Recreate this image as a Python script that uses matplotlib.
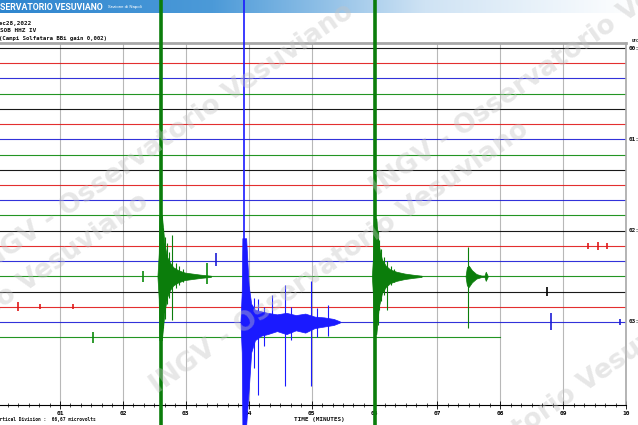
import numpy as np
import matplotlib
matplotlib.use("Agg")
from matplotlib import pyplot as plt
from matplotlib.colors import LinearSegmentedColormap

W, H = 638, 425

# ---------------------------------------------------------------------------
# helicorder layout: 10 minute lines, 6 per hour
n_traces = 20
trace_colors = ["#000000", "#e01818", "#1c1cd6", "#0b8a0b"]
last_trace_end = 8.0
hour_rows = [0, 6, 12, 18]
hour_labels = ["00:00", "01:00", "02:00", "03:00"]
minute_ticks = [1, 2, 3, 4, 5, 6, 7, 8, 9, 10]
minute_labels = ["01", "02", "03", "04", "05", "06", "07", "08", "09", "10"]

# events: row, time in minutes, amplitude up / down in line spacings
eq1_row = 15
eq1_t = [2.55, 2.57, 2.58, 2.62, 2.66, 2.70, 2.75, 2.80, 2.88, 2.98, 3.10, 3.25, 3.40]
eq1_up = [0.05, 1.5, 4.0, 4.0, 2.2, 1.3, 0.9, 0.6, 0.4, 0.25, 0.18, 0.1, 0.04]
eq1_dn = [0.05, 1.5, 4.2, 4.2, 2.4, 1.4, 0.9, 0.6, 0.4, 0.25, 0.18, 0.1, 0.04]
eq1_main = 2.60
eq1_spk_t = [2.64, 2.67, 2.70, 2.73, 2.78, 2.84, 2.90, 2.95]
eq1_spk_up = [3.2, 2.6, 2.2, 1.6, 2.7, 0.9, 0.7, 0.5]
eq1_spk_dn = [3.4, 2.8, 1.8, 1.4, 2.9, 0.8, 0.6, 0.4]

eq2_row = 15
eq2_t = [5.96, 5.98, 5.99, 6.03, 6.07, 6.12, 6.18, 6.25, 6.35, 6.48, 6.62, 6.75]
eq2_up = [0.05, 1.5, 3.8, 3.8, 2.0, 1.1, 0.7, 0.45, 0.3, 0.18, 0.1, 0.04]
eq2_dn = [0.05, 1.5, 3.8, 3.8, 2.0, 1.1, 0.7, 0.45, 0.3, 0.18, 0.1, 0.04]
eq2_main = 6.01
eq2_spk_t = [6.05, 6.08, 6.11, 6.15, 6.20, 6.26, 6.31, 7.49]
eq2_spk_up = [3.0, 2.4, 1.8, 1.3, 1.0, 0.7, 0.5, 1.9]
eq2_spk_dn = [3.2, 2.2, 1.6, 1.2, 2.2, 0.6, 0.4, 3.4]

eq3_t = [7.45, 7.47, 7.50, 7.55, 7.62, 7.70, 7.75, 7.77, 7.80]
eq3_amp = [0.05, 0.6, 0.7, 0.4, 0.15, 0.05, 0.05, 0.3, 0.04]

lp_row = 18
lp_t = [3.87, 3.89, 3.90, 3.96, 4.00, 4.04, 4.10, 4.20, 4.30, 4.45, 4.60, 4.75, 4.90, 5.05, 5.20, 5.35, 5.45]
lp_up = [0.05, 2.0, 5.5, 5.5, 2.4, 1.2, 0.8, 0.7, 0.6, 0.5, 0.6, 0.45, 0.55, 0.35, 0.3, 0.2, 0.04]
lp_dn = [0.05, 2.0, 6.8, 6.8, 4.5, 2.0, 1.2, 0.9, 0.8, 0.6, 0.8, 0.55, 0.7, 0.4, 0.3, 0.2, 0.04]
lp_main = 3.93
lp_spk_t = [4.08, 4.15, 4.25, 4.37, 4.58, 4.68, 4.99, 5.08, 5.26]
lp_spk_up = [1.6, 1.5, 1.0, 1.8, 2.4, 1.0, 2.7, 0.9, 1.1]
lp_spk_dn = [3.0, 4.8, 1.6, 0.6, 4.2, 1.2, 4.2, 1.0, 0.9]

# small transients: row, time, up, down
small_row = [15, 14, 15, 19, 17, 17, 17, 16, 18, 18, 13, 13, 13]
small_t = [3.34, 3.48, 2.32, 1.52, 0.33, 0.68, 1.21, 8.74, 8.80, 9.90, 9.40, 9.55, 9.70]
small_up = [0.9, 0.5, 0.35, 0.35, 0.3, 0.15, 0.15, 0.3, 0.6, 0.2, 0.2, 0.25, 0.2]
small_dn = [0.5, 0.3, 0.35, 0.35, 0.3, 0.15, 0.15, 0.3, 0.5, 0.2, 0.2, 0.25, 0.2]


def fx(px):
    return px / W


def fy(py):
    return 1 - py / H


def row_of(py):
    return (py - 48) / 15.22


fig = plt.figure(figsize=(W / 100, H / 100), dpi=100)

# header band
hdr = fig.add_axes([0, fy(13), 1, 13 / H], zorder=0)
cmap = LinearSegmentedColormap.from_list("hdr", ["#2f86cf", "#4c9ad8", "#cfe3f4", "#ffffff"])
hdr.imshow(np.linspace(0, 1, 256)[None, :], aspect="auto", cmap=cmap, extent=[0, 1, 0, 1])
hdr.set_axis_off()
fig.text(fx(0), fy(7), "SERVATORIO VESUVIANO", color="white", fontsize=6.3,
         fontweight="bold", family="Roboto", va="center", ha="left", zorder=2)
fig.text(fx(108), fy(7), "Sezione di Napoli", color="white", fontsize=3.2,
         family="Roboto", va="center", ha="left", zorder=2)

mono = dict(family="DejaVu Sans Mono", fontweight="bold", color="#111111")
fig.text(fx(-4), fy(24), "Dec28,2022", fontsize=4.3, va="center", ha="left", **mono)
fig.text(fx(0), fy(30), "SOB HHZ IV", fontsize=4.3, va="center", ha="left", **mono)
fig.text(fx(-1), fy(38.5), "(Campi Solfatara BBi gain 0,002)", fontsize=4.1,
         va="center", ha="left", **mono)

# main helicorder axes
ax = fig.add_axes([fx(-2.9), fy(405), 628.9 / W, (405 - 43) / H], zorder=1)
ax.set_facecolor("none")
ax.set_xlim(0, 10)
ax.set_ylim(row_of(405), row_of(43))

for side in ["top", "right"]:
    ax.spines[side].set_color("#a8a8a8")
ax.spines["top"].set_linewidth(2)
ax.spines["right"].set_linewidth(1.2)
ax.spines["left"].set_visible(False)
ax.spines["bottom"].set_linewidth(0.8)

ax.set_yticks([])
ax.set_xticks(minute_ticks)
ax.set_xticklabels(minute_labels)
ax.set_xticks(np.arange(0, 10.01, 1 / 6), minor=True)
ax.tick_params(axis="x", which="major", direction="inout", length=6, width=0.6, pad=1,
               labelsize=4.5)
ax.tick_params(axis="x", which="minor", direction="inout", length=3.5, width=0.5)
for lab in ax.get_xticklabels():
    lab.set_family("DejaVu Sans Mono")
    lab.set_fontweight("bold")
ax.grid(axis="x", which="major", color="#b8b8b8", linewidth=0.8)

# trace baselines
for r in range(n_traces):
    c = trace_colors[r % 4]
    xend = last_trace_end if r == n_traces - 1 else 10
    ax.plot([0, xend], [r, r], color=c, linewidth=0.8, alpha=0.9)


def burst(row, t, up, dn, color):
    ax.fill_between(t, [row - u for u in up], [row + d for d in dn], color=color,
                    linewidth=0.5, clip_on=False, zorder=3)


def spikes(row, t, up, dn, color, lw=0.8):
    ax.vlines(t, [row - u for u in up], [row + d for d in dn], color=color,
              linewidth=lw, clip_on=False, zorder=3)


green = "#0b7d0b"
blue = "#1a1aff"
top_r, bot_r = row_of(0), row_of(425)

burst(eq1_row, eq1_t, eq1_up, eq1_dn, green)
spikes(eq1_row, eq1_spk_t, eq1_spk_up, eq1_spk_dn, green)
ax.vlines(eq1_main, top_r, bot_r, color=green, linewidth=2.6, clip_on=False, zorder=4)

burst(eq2_row, eq2_t, eq2_up, eq2_dn, green)
spikes(eq2_row, eq2_spk_t, eq2_spk_up, eq2_spk_dn, green)
burst(eq2_row, eq3_t, eq3_amp, eq3_amp, green)
ax.vlines(eq2_main, top_r, bot_r, color=green, linewidth=2.6, clip_on=False, zorder=4)

burst(lp_row, lp_t, lp_up, lp_dn, blue)
spikes(lp_row, lp_spk_t, lp_spk_up, lp_spk_dn, blue)
ax.vlines(lp_main, top_r, bot_r, color=blue, linewidth=1.2, clip_on=False, zorder=4)

for r, t, u, d in zip(small_row, small_t, small_up, small_dn):
    spikes(r, [t], [u], [d], trace_colors[r % 4], lw=1.2)

# hour labels on the right
for r, lab in zip(hour_rows, hour_labels):
    fig.text(fx(629), fy(48 + 15.22 * r), lab, fontsize=4.3, va="center", ha="left", **mono)
fig.text(fx(632), fy(41), "UTC", fontsize=3, va="center", ha="left", **mono)

# bottom notes
fig.text(fx(-6), fy(419), "Vertical Division :  66,67 microvolts", fontsize=3.3,
         va="center", ha="left", **mono)
fig.text(fx(319), fy(420), "TIME (MINUTES)", fontsize=4.3, va="center", ha="center", **mono)

# watermark
for cx, cy in [(165, 140), (340, 258), (560, 60), (520, 430), (-40, 330)]:
    fig.text(fx(cx), fy(cy), "INGV - Osservatorio Vesuviano", fontsize=19, rotation=35,
             color="#c4c4c4", alpha=0.4, fontweight="bold", ha="center", va="center",
             rotation_mode="anchor", zorder=6)

fig.savefig("out.png", dpi=100)
